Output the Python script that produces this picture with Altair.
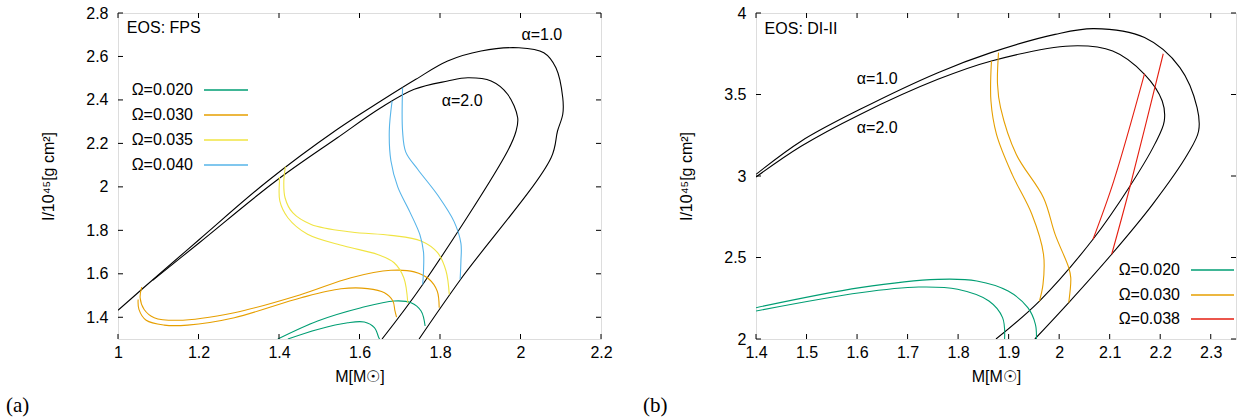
import altair as alt
import pandas as pd

# ---------------- Panel (a): EOS FPS ----------------
fps_xticks = [1, 1.2, 1.4, 1.6, 1.8, 2, 2.2]
fps_yticks = [1.4, 1.6, 1.8, 2, 2.2, 2.4, 2.6, 2.8]

fps_a1_M = [1.0, 1.065, 1.202, 1.372, 1.545, 1.653, 1.740, 1.819, 1.902, 1.996, 2.058, 2.088, 2.105, 2.105, 2.092, 2.076, 1.851, 1.748]
fps_a1_I = [1.432, 1.538, 1.758, 2.027, 2.265, 2.395, 2.495, 2.579, 2.625, 2.640, 2.617, 2.548, 2.410, 2.334, 2.257, 2.134, 1.574, 1.300]
fps_a2_M = [1.086, 1.202, 1.392, 1.545, 1.653, 1.736, 1.819, 1.869, 1.927, 1.968, 1.993, 1.989, 1.968, 1.757, 1.656]
fps_a2_I = [1.570, 1.743, 2.027, 2.226, 2.364, 2.449, 2.487, 2.502, 2.487, 2.426, 2.318, 2.257, 2.165, 1.551, 1.300]

fps_g1_M = [1.397, 1.496, 1.604, 1.686, 1.728, 1.753, 1.763]
fps_g1_I = [1.300, 1.383, 1.444, 1.475, 1.467, 1.429, 1.360]
fps_g2_M = [1.422, 1.496, 1.571, 1.612, 1.637, 1.648, 1.650]
fps_g2_I = [1.300, 1.344, 1.375, 1.378, 1.352, 1.306, 1.300]

fps_o1_M = [1.059, 1.055, 1.065, 1.090, 1.148, 1.289, 1.455, 1.579, 1.678, 1.736, 1.773, 1.793, 1.798]
fps_o1_I = [1.539, 1.490, 1.436, 1.398, 1.386, 1.421, 1.505, 1.582, 1.616, 1.609, 1.575, 1.521, 1.444]
fps_o2_M = [1.050, 1.052, 1.070, 1.115, 1.173, 1.289, 1.455, 1.554, 1.620, 1.662, 1.683, 1.688, 1.692]
fps_o2_I = [1.482, 1.436, 1.386, 1.364, 1.364, 1.398, 1.490, 1.531, 1.532, 1.513, 1.475, 1.430, 1.401]

fps_y1_M = [1.416, 1.412, 1.415, 1.434, 1.480, 1.579, 1.678, 1.753, 1.794, 1.815, 1.823]
fps_y1_I = [2.093, 2.027, 1.950, 1.881, 1.827, 1.792, 1.777, 1.751, 1.697, 1.613, 1.505]
fps_y2_M = [1.401, 1.401, 1.402, 1.422, 1.471, 1.562, 1.645, 1.686, 1.710, 1.720]
fps_y2_I = [2.045, 2.027, 1.935, 1.858, 1.782, 1.728, 1.689, 1.651, 1.582, 1.467]

fps_b1_M = [1.707, 1.707, 1.715, 1.745, 1.795, 1.835, 1.852, 1.852, 1.850]
fps_b1_I = [2.456, 2.257, 2.160, 2.080, 1.960, 1.840, 1.740, 1.659, 1.575]
fps_b2_M = [1.681, 1.674, 1.678, 1.695, 1.725, 1.750, 1.759, 1.759, 1.757]
fps_b2_I = [2.395, 2.257, 2.120, 2.000, 1.885, 1.780, 1.700, 1.613, 1.551]

fps_omegas = ["Ω=0.020", "Ω=0.030", "Ω=0.035", "Ω=0.040"]
fps_colors = ["#009e73", "#e69f00", "#f0e442", "#56b4e9"]

# ---------------- Panel (b): EOS DI-II ----------------
di_xticks = [1.4, 1.5, 1.6, 1.7, 1.8, 1.9, 2, 2.1, 2.2, 2.3]
di_yticks = [2, 2.5, 3, 3.5, 4]

di_a1_M = [1.4, 1.49, 1.606, 1.760, 1.865, 1.992, 2.069, 2.169, 2.239, 2.273, 2.276, 2.254, 2.185, 2.104, 2.019, 1.952]
di_a1_I = [3.010, 3.215, 3.409, 3.634, 3.757, 3.869, 3.904, 3.849, 3.665, 3.419, 3.276, 3.133, 2.826, 2.520, 2.223, 2.000]
di_a2_M = [1.4, 1.49, 1.606, 1.760, 1.866, 2.023, 2.106, 2.169, 2.204, 2.208, 2.189, 2.138, 2.067, 1.961, 1.875]
di_a2_I = [2.994, 3.184, 3.378, 3.593, 3.706, 3.798, 3.767, 3.624, 3.460, 3.337, 3.194, 2.928, 2.612, 2.233, 2.000]

di_g1_M = [1.4, 1.606, 1.760, 1.837, 1.899, 1.938, 1.953, 1.955]
di_g1_I = [2.192, 2.315, 2.366, 2.356, 2.294, 2.192, 2.090, 2.000]
di_g2_M = [1.4, 1.606, 1.722, 1.799, 1.861, 1.888, 1.892]
di_g2_I = [2.172, 2.284, 2.319, 2.305, 2.233, 2.131, 2.000]

di_o1_M = [1.880, 1.878, 1.884, 1.915, 1.969, 1.992, 2.019, 2.023, 2.019]
di_o1_I = [3.757, 3.563, 3.419, 3.133, 2.867, 2.642, 2.437, 2.375, 2.223]
di_o2_M = [1.866, 1.865, 1.876, 1.907, 1.946, 1.969, 1.968, 1.961]
di_o2_I = [3.706, 3.460, 3.256, 3.010, 2.765, 2.520, 2.335, 2.233]

di_r1_M = [2.104, 2.138, 2.206]
di_r1_I = [2.520, 2.908, 3.750]
di_r2_M = [2.067, 2.108, 2.169]
di_r2_I = [2.612, 2.969, 3.628]

di_omegas = ["Ω=0.020", "Ω=0.030", "Ω=0.038"]
di_colors = ["#009e73", "#e69f00", "#e51e10"]

SANS = "Liberation Sans"
SERIF = "Liberation Serif"
FS = 16


def long_df(curves):
    rows = []
    for name, colr, ms, iis in curves:
        for k, (m, i) in enumerate(zip(ms, iis)):
            rows.append({"M": m, "I": i, "curve": name, "col": colr, "idx": k})
    return pd.DataFrame(rows)


def panel(black, colored, omegas, colors, xdom, ydom, xt, yt, W, H,
          eos_label, eos_pos, alpha_labels, legend_px, tag):
    xs = alt.Scale(domain=xdom, nice=False, zero=False)
    ys = alt.Scale(domain=ydom, nice=False, zero=False)
    xaxis = alt.Axis(values=xt, format="~g", title="M[M☉]", ticks=False, tickSize=0,
                     domain=False, grid=False, labelPadding=5, titlePadding=8,
                     labelFont=SANS, labelFontSize=FS, titleFont=SANS, titleFontSize=FS,
                     titleFontWeight="normal", labelColor="black", titleColor="black",
                     labelFlush=False, labelOverlap=False)
    yaxis = alt.Axis(values=yt, format="~g", title="I/10⁴⁵[g cm²]", ticks=False, tickSize=0,
                     domain=False, grid=False, labelPadding=10, titlePadding=29,
                     labelFont=SANS, labelFontSize=FS, titleFont=SANS, titleFontSize=FS,
                     titleFontWeight="normal", labelColor="black", titleColor="black",
                     labelFlush=False, labelOverlap=False)

    base_black = alt.Chart(long_df(black)).mark_line(
        clip=True, color="black", strokeWidth=1.1, interpolate="catmull-rom").encode(
        x=alt.X("M:Q", scale=xs, axis=xaxis),
        y=alt.Y("I:Q", scale=ys, axis=yaxis),
        detail="curve:N",
        order="idx:Q",
    )
    col = alt.Chart(long_df(colored)).mark_line(
        clip=True, strokeWidth=1.1, interpolate="catmull-rom").encode(
        x="M:Q", y="I:Q",
        color=alt.Color("col:N", scale=None),
        detail="curve:N",
        order="idx:Q",
    )
    layers = [base_black, col]

    # inward mirrored ticks
    xtdf = pd.DataFrame({"v": xt})
    ytdf = pd.DataFrame({"v": yt})
    TL = 5
    layers.append(alt.Chart(xtdf).mark_rule(color="black").encode(
        x="v:Q", y=alt.value(H), y2=alt.value(H - TL)))
    layers.append(alt.Chart(xtdf).mark_rule(color="black").encode(
        x="v:Q", y=alt.value(0), y2=alt.value(TL)))
    layers.append(alt.Chart(ytdf).mark_rule(color="black").encode(
        y="v:Q", x=alt.value(0), x2=alt.value(TL)))
    layers.append(alt.Chart(ytdf).mark_rule(color="black").encode(
        y="v:Q", x=alt.value(W), x2=alt.value(W - TL)))

    # EOS label
    layers.append(alt.Chart(pd.DataFrame([{"M": eos_pos[0], "I": eos_pos[1], "t": eos_label}])).mark_text(
        align="left", baseline="middle", font=SANS, fontSize=FS, color="black").encode(
        x="M:Q", y="I:Q", text="t:N"))
    # alpha labels
    layers.append(alt.Chart(pd.DataFrame(alpha_labels, columns=["M", "I", "t"])).mark_text(
        align="center", baseline="middle", font=SANS, fontSize=FS, color="black").encode(
        x="M:Q", y="I:Q", text="t:N"))

    # key (gnuplot style: label left, sample right)
    tx, lx1, lx2, rows_y = legend_px
    for lab, c, yy in zip(omegas, colors, rows_y):
        layers.append(alt.Chart(alt.Data(values=[{}])).mark_text(
            align="right", baseline="middle", font=SANS, fontSize=FS, color="black").encode(
            x=alt.value(tx), y=alt.value(yy), text=alt.value(lab)))
        layers.append(alt.Chart(alt.Data(values=[{}])).mark_rule(color=c, strokeWidth=1.3).encode(
            x=alt.value(lx1), x2=alt.value(lx2), y=alt.value(yy)))

    # panel tag
    layers.append(alt.Chart(alt.Data(values=[{}])).mark_text(
        align="left", baseline="middle", font=SERIF, fontSize=21, color="black").encode(
        x=alt.value(tag[1]), y=alt.value(tag[2]), text=alt.value(tag[0])))

    return alt.layer(*layers).properties(width=W, height=H)


def tagged(curves, omegas, colors):
    cmap = dict(zip(omegas, colors))
    return [(n, cmap[g], m, i) for n, g, m, i in curves]


left = panel(
    black=[("a1", "black", fps_a1_M, fps_a1_I), ("a2", "black", fps_a2_M, fps_a2_I)],
    colored=tagged([("g1", fps_omegas[0], fps_g1_M, fps_g1_I), ("g2", fps_omegas[0], fps_g2_M, fps_g2_I),
                    ("o1", fps_omegas[1], fps_o1_M, fps_o1_I), ("o2", fps_omegas[1], fps_o2_M, fps_o2_I),
                    ("y1", fps_omegas[2], fps_y1_M, fps_y1_I), ("y2", fps_omegas[2], fps_y2_M, fps_y2_I),
                    ("b1", fps_omegas[3], fps_b1_M, fps_b1_I), ("b2", fps_omegas[3], fps_b2_M, fps_b2_I)],
                   fps_omegas, fps_colors),
    omegas=fps_omegas, colors=fps_colors,
    xdom=[1, 2.2], ydom=[1.3, 2.8], xt=fps_xticks, yt=fps_yticks, W=483, H=326,
    eos_label="EOS: FPS", eos_pos=(1.022, 2.731),
    alpha_labels=[(2.053, 2.699, "α=1.0"), (1.855, 2.395, "α=2.0")],
    legend_px=(75, 86, 130, [77, 102, 127, 152]),
    tag=("(a)", -112, 393),
)

right = panel(
    black=[("a1", "black", di_a1_M, di_a1_I), ("a2", "black", di_a2_M, di_a2_I)],
    colored=tagged([("g1", di_omegas[0], di_g1_M, di_g1_I), ("g2", di_omegas[0], di_g2_M, di_g2_I),
                    ("o1", di_omegas[1], di_o1_M, di_o1_I), ("o2", di_omegas[1], di_o2_M, di_o2_I),
                    ("r1", di_omegas[2], di_r1_M, di_r1_I), ("r2", di_omegas[2], di_r2_M, di_r2_I)],
                   di_omegas, di_colors),
    omegas=di_omegas, colors=di_colors,
    xdom=[1.4, 2.35], ydom=[2, 4], xt=di_xticks, yt=di_yticks, W=480, H=326,
    eos_label="EOS: DI-II", eos_pos=(1.417, 3.902),
    alpha_labels=[(1.640, 3.595, "α=1.0"), (1.640, 3.294, "α=2.0")],
    legend_px=(424, 435, 478, [257, 282, 306]),
    tag=("(b)", -113, 393),
)

chart = alt.hconcat(left, right, spacing=29).properties(
    padding={"left": 5, "top": 4, "right": 0, "bottom": 0}
).configure_view(stroke="black", strokeWidth=1).configure(background="white")

chart.save("out.html", embed_options={"renderer": "svg", "actions": False})
